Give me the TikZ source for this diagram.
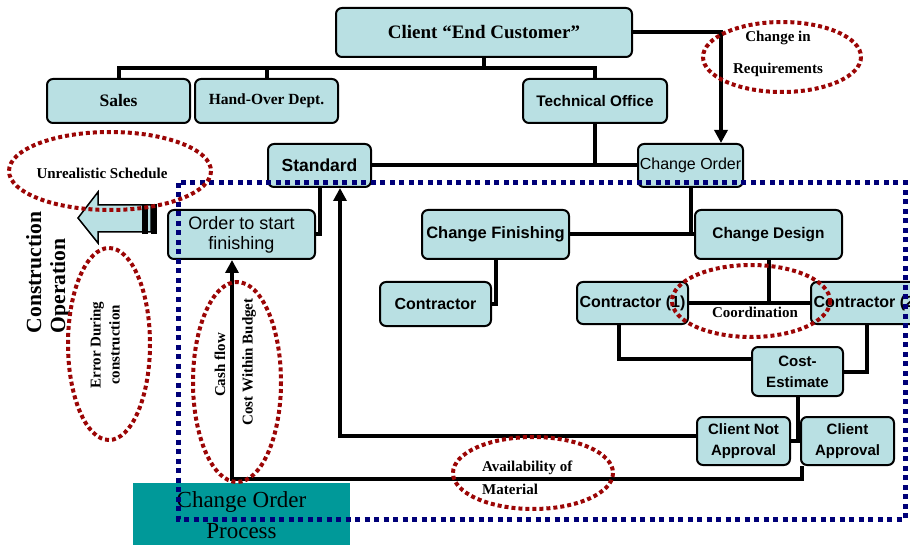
\documentclass[tikz,border=0pt]{standalone}
\usepackage{fontspec}
\setmainfont{Liberation Serif}
\setsansfont{Liberation Sans}
\usetikzlibrary{arrows.meta}
\definecolor{boxblue}{RGB}{185,224,227}
\definecolor{tealbox}{RGB}{0,153,153}
\definecolor{navydot}{RGB}{0,0,120}
\definecolor{reddot}{RGB}{155,5,5}
\begin{document}
\begin{tikzpicture}[x=1pt,y=-1pt,
  box/.style={draw=black, line width=2pt, fill=boxblue, rounded corners=6pt, inner sep=0pt, align=center},
  sfb/.style={font=\sffamily\bfseries\fontsize{#1}{21}\selectfont},
  conn/.style={line width=4pt, draw=black},
  arr/.style={conn, -{Triangle[length=13pt,width=13pt]}},
  bluedots/.style={draw=navydot, line width=5pt, dash pattern=on 5pt off 4.5pt},
  reddots/.style={draw=reddot, line width=4pt, dash pattern=on 4pt off 3pt},
  note/.style={font=\rmfamily\bfseries\fontsize{15}{19}\selectfont, inner sep=0pt}
]
\useasboundingbox (0,0) rectangle (910,545);
\clip (0,0) rectangle (910,545);

% boxes
\node[box, minimum width=296pt, minimum height=49pt, font=\rmfamily\bfseries\fontsize{19}{22}\selectfont] (client) at (484,32.5) {Client “End Customer”};
\node[box, minimum width=143pt, minimum height=44pt, font=\rmfamily\bfseries\fontsize{17.5}{20}\selectfont] (sales) at (118.5,101) {Sales};
\node[box, minimum width=143pt, minimum height=44pt, font=\rmfamily\bfseries\fontsize{15.5}{18}\selectfont] (handover) at (266.5,101) {Hand-Over Dept.};
\node[box, minimum width=144pt, minimum height=44pt, sfb=15.3] (techoffice) at (595,101) {Technical Office};
\node[box, minimum width=103pt, minimum height=43pt, sfb=17.5] (standard) at (319.5,165.5) {Standard};
\node[box, minimum width=105pt, minimum height=43pt, font=\sffamily\fontsize{16}{19}\selectfont] (changeorder) at (690.5,165.5) {Change Order};
\node[box, minimum width=147pt, minimum height=49pt, font=\sffamily\fontsize{18}{20}\selectfont] (orderstart) at (241.5,234.5) {Order to start\\finishing};
\node[box, minimum width=147pt, minimum height=49pt, sfb=16.5] (changefin) at (495.5,234.5) {Change Finishing};
\node[box, minimum width=147pt, minimum height=49pt, sfb=15.4] (changedesign) at (768.5,234.5) {Change Design};
\node[box, minimum width=111pt, minimum height=44pt, sfb=16] (contractor) at (435.5,304) {Contractor};
\node[box, minimum width=111pt, minimum height=42pt, sfb=16] (contr1) at (632.5,303) {Contractor (1)};
\node[box, minimum width=111pt, minimum height=42pt, sfb=16] (contr2) at (866.5,303) {Contractor (2)};
\node[box, minimum width=91pt, minimum height=49pt, sfb=15] (costest) at (797.5,371.5) {Cost-\\Estimate};
\node[box, minimum width=93pt, minimum height=48pt, sfb=15] (clientnot) at (743.5,441) {Client Not\\Approval};
\node[box, minimum width=93pt, minimum height=48pt, sfb=15] (clientapp) at (847.5,441) {Client\\Approval};

% connectors
\coordinate (bus) at (484,68);
\draw[conn] (client.south) -- (bus);
\draw[conn] (sales.north) |- (bus) -| (techoffice.north);
\draw[conn] (handover.north) -- (handover.north |- bus);
\draw[arr] (client.east) -| ([xshift=-23pt]changeorder.north east);
\draw[conn] (standard.east) -- (changeorder.west);
\draw[conn] (techoffice.south) -- (techoffice.south |- standard.east);
\draw[conn] (standard.south) |- (orderstart.east);
\draw[arr] ([yshift=5pt]clientnot.west) -| ([xshift=20.5pt]standard.south);
\draw[arr] ([xshift=2pt]clientapp.south west) -- ++(0,13) -| ([xshift=-9.5pt]orderstart.south);
\draw[conn] (changefin.east) -- (changedesign.west);
\draw[conn] (changeorder.south) -- (changeorder.south |- changefin.east);
\draw[conn] (changefin.south) |- (contractor.east);
\draw[conn] (contr1.east) -- (contr2.west);
\draw[conn] (changedesign.south) -- (changedesign.south |- contr1.east);
\draw[conn] ([xshift=-13.5pt]contr1.south) |- ([yshift=12.5pt]costest.west);
\draw[conn] (contr2.south) |- (costest.east);
\draw[conn] (clientnot.east) -- (clientapp.west);
\draw[conn] (costest.south) -- (costest.south |- clientnot.east);

% block arrow
\draw[line width=1.5pt, fill=boxblue, line join=miter] (78,218) -- (98,192) -- (98,205) -- (151,205) -- (151,232) -- (98,232) -- (98,243) -- cycle;
\fill[black] (142,204) rectangle (148,234);
\fill[black] (151,204) rectangle (157,234);

\node[rotate=90, align=left, font=\rmfamily\bfseries\fontsize{21.6}{24}\selectfont, inner sep=0pt] (constr) at (48,272.5) {Construction\\Operation};

% change order process
\node[fill=tealbox, minimum width=217pt, minimum height=64pt, inner sep=0pt, align=center, font=\rmfamily\fontsize{23}{31}\selectfont] (process) at (241.5,515) {Change Order\\Process};

% dotted frame
\draw[bluedots] (178,183) rectangle (905,519);

% red ellipses
\draw[reddots] (782,57) ellipse [x radius=79, y radius=35];
\draw[reddots] (110,171) ellipse [x radius=101, y radius=39];
\draw[reddots] (109,344) ellipse [x radius=41, y radius=96];
\draw[reddots] (237,382) ellipse [x radius=44, y radius=100];
\draw[reddots] (751,301) ellipse [x radius=79, y radius=36];
\draw[reddots] (533,473) ellipse [x radius=80, y radius=36];

\node[note] (chgin) at (778,38) {Change in};
\node[note] (req) at (778,70) {Requirements};
\node[note] (unreal) at (102,173) {Unrealistic Schedule};
\node[note, rotate=90, align=center] (errdur) at (105,345) {Error During\\construction};
\node[note, rotate=90] (cash) at (220,365) {Cash flow};
\node[note, rotate=90] (costwb) at (249,362) {Cost Within Budget};
\node[note] (coord) at (755,312) {Coordination};
\node[note, anchor=west] (avail) at (482,468) {Availability of};
\node[note, anchor=west] (mat) at (482,489) {Material};
\end{tikzpicture}
\end{document}
